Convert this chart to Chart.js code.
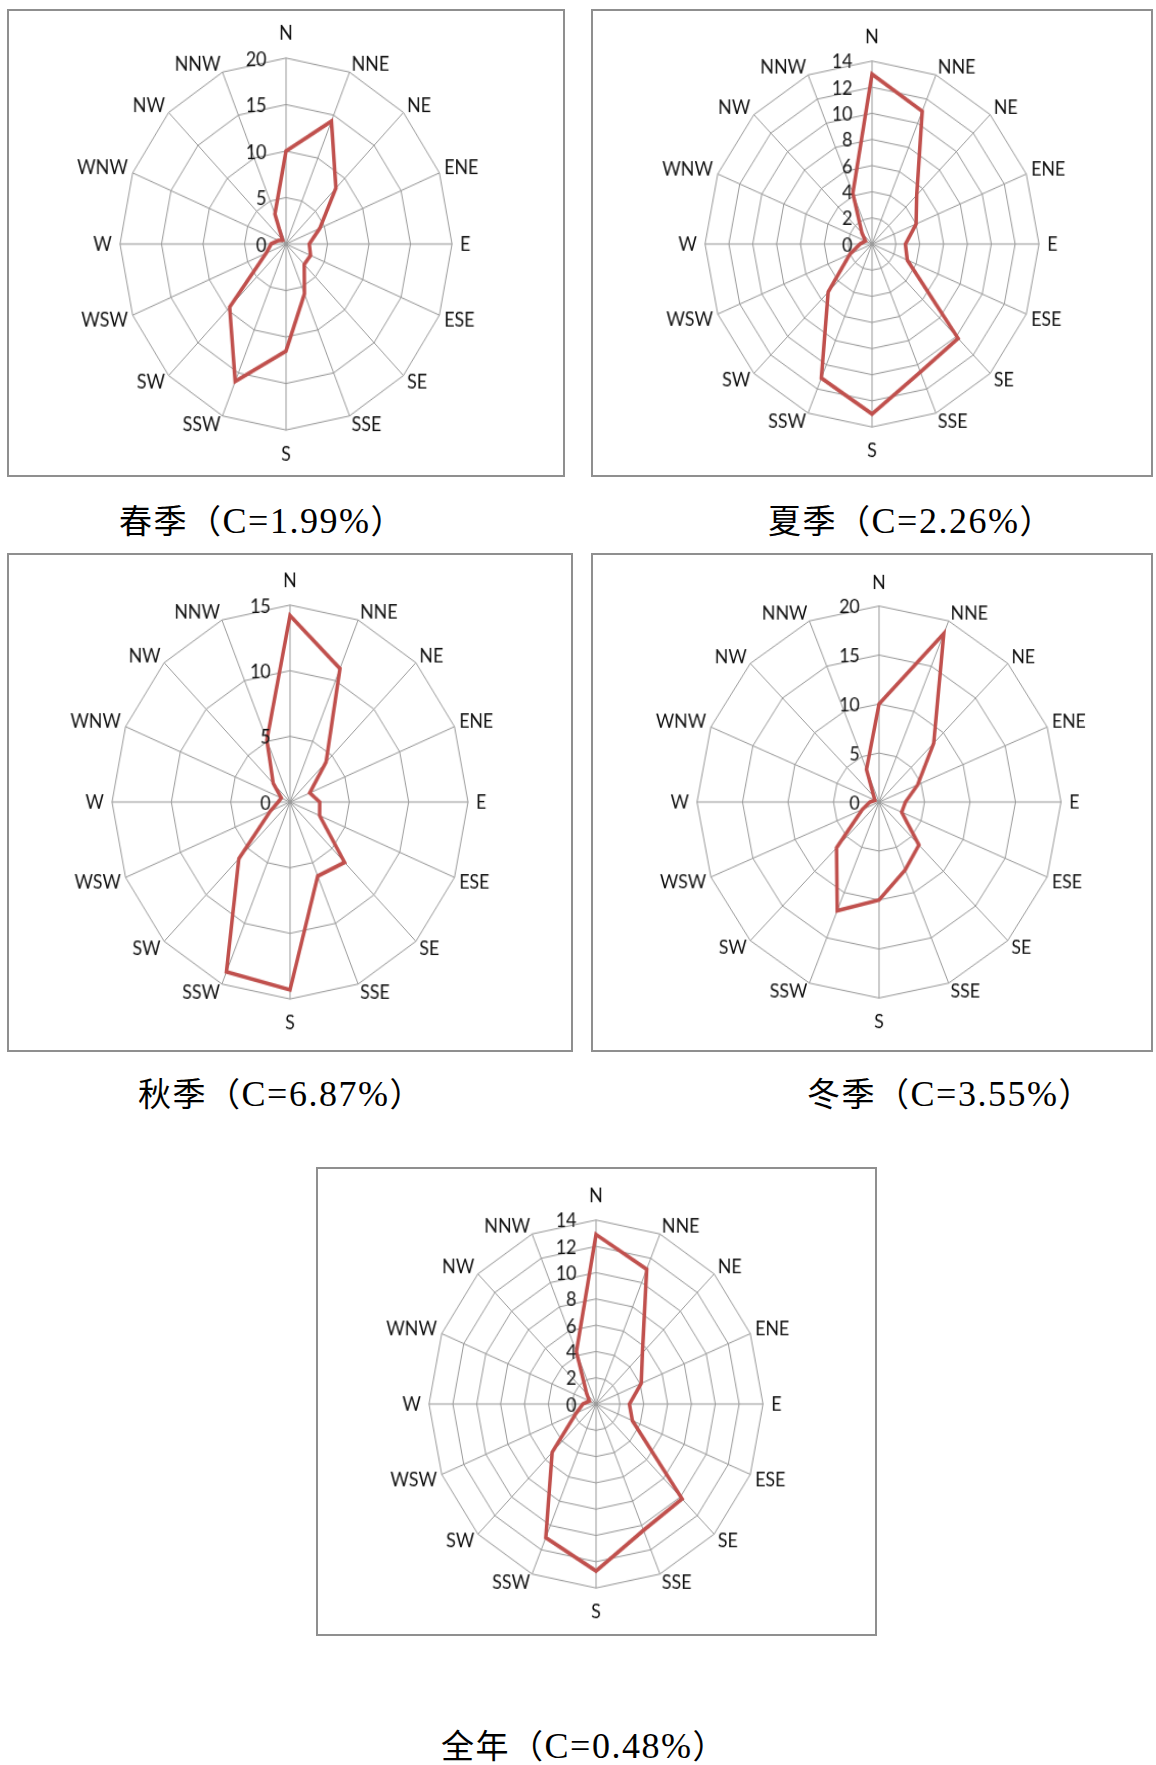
<!DOCTYPE html>
<html>
<head>
<meta charset="utf-8">
<script src="https://cdn.jsdelivr.net/npm/chart.js@4.4.1/dist/chart.umd.min.js"></script>
<style>
  body { margin: 0; background: #fff; width: 1156px; height: 1765px; position: relative; overflow: hidden; }
  .frame { position: absolute; border: 2px solid #8f8f8f; box-sizing: border-box; background: #fff; }
  canvas.rose { position: absolute; }
  .caption {
    position: absolute; white-space: nowrap; line-height: 1; color: #000;
    font-family: "Noto Sans CJK SC", serif; font-size: 33px; letter-spacing: 1.5px;
    transform: translate(-50%, -50%);
  }
  .caption .latin { font-family: "Liberation Serif", serif; font-size: 36px; }
</style>
</head>
<body>
<script>
const directions = ["N", "NNE", "NE", "ENE", "E", "ESE", "SE", "SSE", "S", "SSW", "SW", "WSW", "W", "WNW", "NW", "NNW"];

const springValues = [10, 14.3, 8.5, 4.4, 2.8, 3.2, 3.1, 5.8, 11.5, 16, 9.6, 2.6, 1.8, 1.0, 0.6, 3.5];
const summerValues = [13, 11, 5.3, 4.0, 2.8, 3.2, 10.2, 10.6, 13, 11.1, 5.2, 2.0, 1.0, 0.6, 1.2, 4.2];
const autumnValues = [14.2, 11, 4.3, 1.8, 2.5, 2.7, 6.5, 6.1, 14.3, 14, 6.1, 1.8, 1.0, 0.8, 2.0, 5.1];
const winterValues = [10, 18.6, 8.5, 4.6, 2.9, 2.7, 6.2, 7.5, 10, 12, 6.6, 2.0, 1.0, 0.5, 0.8, 3.6];
const annualValues = [12.9, 11.1, 5.5, 4.1, 2.8, 3.3, 10.2, 10.4, 12.7, 11, 5.2, 1.8, 1.1, 0.6, 1.1, 4.3];

const springTicks = [0, 5, 10, 15, 20];
const summerTicks = [0, 2, 4, 6, 8, 10, 12, 14];
const autumnTicks = [0, 5, 10, 15];
const winterTicks = [0, 5, 10, 15, 20];
const annualTicks = [0, 2, 4, 6, 8, 10, 12, 14];

const seasonNames = ["春季", "夏季", "秋季", "冬季", "全年"];
const calmRates = ["C=1.99%", "C=2.26%", "C=6.87%", "C=3.55%", "C=0.48%"];

// page layout: frame box, polar centre, radii (picture is stretched vertically), caption centre
const panels = [
  { values: springValues, ticks: springTicks, frame: [7, 9, 558, 468], cx: 286, cy: 244, rx: 166, ry: 186, cap: [262, 521] },
  { values: summerValues, ticks: summerTicks, frame: [591, 9, 562, 468], cx: 872, cy: 244, rx: 167, ry: 183, cap: [911, 521] },
  { values: autumnValues, ticks: autumnTicks, frame: [7, 553, 566, 499], cx: 290, cy: 802, rx: 178, ry: 197, cap: [281, 1094] },
  { values: winterValues, ticks: winterTicks, frame: [591, 553, 562, 499], cx: 879, cy: 802, rx: 182, ry: 196, cap: [950, 1094] },
  { values: annualValues, ticks: annualTicks, frame: [316, 1167, 561, 469], cx: 596, cy: 1404, rx: 167, ry: 184, cap: [584, 1746] }
];

// tick labels sit left of the N axis, like the spreadsheet original
const tickLabelPlugin = {
  id: "tickLabels",
  afterDraw(chart) {
    const scale = chart.scales.r;
    const ctx = chart.ctx;
    ctx.save();
    ctx.font = "17.5px Lato";
    ctx.fillStyle = "#111";
    ctx.textAlign = "right";
    ctx.textBaseline = "middle";
    scale.ticks.forEach((tick) => {
      const dist = scale.getDistanceFromCenterForValue(tick.value);
      ctx.fillText(String(tick.value), scale.xCenter - 19, scale.yCenter - dist + 1);
    });
    ctx.restore();
  }
};

function labelPadding(context) {
  const i = context.index;
  if (i % 8 === 0) return 19;
  if (i % 8 === 4) return 8;
  return 5;
}

panels.forEach((p, k) => {
  const frame = document.createElement("div");
  frame.className = "frame";
  frame.style.left = p.frame[0] + "px";
  frame.style.top = p.frame[1] + "px";
  frame.style.width = p.frame[2] + "px";
  frame.style.height = p.frame[3] + "px";
  document.body.appendChild(frame);

  const size = Math.round(2 * (p.rx + 38));
  const canvas = document.createElement("canvas");
  canvas.className = "rose";
  canvas.width = size;
  canvas.height = size;
  document.body.appendChild(canvas);

  const chart = new Chart(canvas.getContext("2d"), {
    type: "radar",
    data: {
      labels: directions,
      datasets: [{
        data: p.values,
        borderColor: "#c0504d",
        borderWidth: 3.5,
        pointRadius: 0,
        pointHoverRadius: 0,
        fill: false,
        tension: 0
      }]
    },
    options: {
      responsive: false,
      animation: false,
      devicePixelRatio: 1,
      plugins: { legend: { display: false }, tooltip: { enabled: false } },
      scales: {
        r: {
          min: p.ticks[0],
          max: p.ticks[p.ticks.length - 1],
          ticks: { stepSize: p.ticks[1] - p.ticks[0], display: false },
          grid: { color: "#9a9a9a", lineWidth: 1 },
          angleLines: { color: "#9a9a9a", lineWidth: 1 },
          pointLabels: {
            color: "#111",
            font: { family: "Lato", size: 17.5, lineHeight: 0.3 },
            padding: labelPadding
          }
        }
      }
    },
    plugins: [tickLabelPlugin]
  });

  const s = chart.scales.r;
  const sx = p.rx / s.drawingArea;
  const sy = p.ry / s.drawingArea;
  canvas.style.left = (p.cx - s.xCenter) + "px";
  canvas.style.top = (p.cy - s.yCenter) + "px";
  canvas.style.transformOrigin = s.xCenter + "px " + s.yCenter + "px";
  canvas.style.transform = "scale(" + sx + "," + sy + ")";

  const cap = document.createElement("div");
  cap.className = "caption";
  const rate = document.createElement("span");
  rate.className = "latin";
  rate.textContent = calmRates[k];
  cap.append(seasonNames[k] + "（", rate, "）");
  cap.style.left = p.cap[0] + "px";
  cap.style.top = p.cap[1] + "px";
  document.body.appendChild(cap);
});
</script>
</body>
</html>
